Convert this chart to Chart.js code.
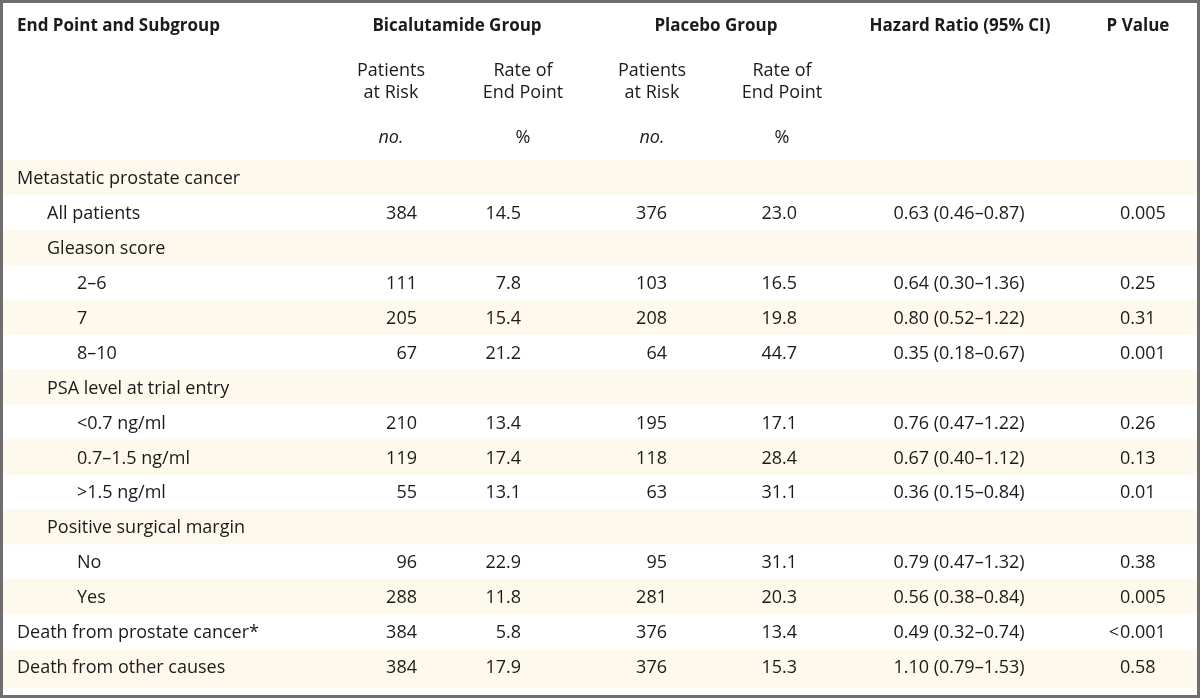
<!DOCTYPE html>
<html>
<head>
<meta charset="utf-8">
<script src="https://cdn.jsdelivr.net/npm/chart.js@4.4.0/dist/chart.umd.min.js"></script>
<style>
html,body{margin:0;padding:0;background:#fff;}
canvas{display:block;}
</style>
</head>
<body>
<canvas id="c" width="1200" height="698"></canvas>
<script>
// ---- Data ----
const rowLabels = [
  'Metastatic prostate cancer','All patients','Gleason score','2–6','7','8–10',
  'PSA level at trial entry','<0.7 ng/ml','0.7–1.5 ng/ml','>1.5 ng/ml',
  'Positive surgical margin','No','Yes','Death from prostate cancer*','Death from other causes'
];
const rowLevel = [0,1,1,2,2,2,1,2,2,2,1,2,2,0,0];
const bicaPatients = [null,384,null,111,205,67,null,210,119,55,null,96,288,384,384];
const bicaRate = [null,14.5,null,7.8,15.4,21.2,null,13.4,17.4,13.1,null,22.9,11.8,5.8,17.9];
const placeboPatients = [null,376,null,103,208,64,null,195,118,63,null,95,281,376,376];
const placeboRate = [null,23.0,null,16.5,19.8,44.7,null,17.1,28.4,31.1,null,31.1,20.3,13.4,15.3];
const hazardRatio = [null,0.63,null,0.64,0.80,0.35,null,0.76,0.67,0.36,null,0.79,0.56,0.49,1.10];
const ciLow = [null,0.46,null,0.30,0.52,0.18,null,0.47,0.40,0.15,null,0.47,0.38,0.32,0.79];
const ciHigh = [null,0.87,null,1.36,1.22,0.67,null,1.22,1.12,0.84,null,1.32,0.84,0.74,1.53];
const pValues = [null,'0.005',null,'0.25','0.31','0.001',null,'0.26','0.13','0.01',null,'0.38','0.005','<0.001','0.58'];
const headerTop = ['End Point and Subgroup','Bicalutamide Group','Placebo Group','Hazard Ratio (95% CI)','P Value'];
const subHeader = [['Patients','at Risk'],['Rate of','End Point']];
const unitLabels = ['no.','%'];

// ---- Layout / style (kept separate from data) ----
const FONT = '"Open Sans"';
const TXT = '#1c1a1a';
const SHADE = '#fdf9ec';
const COL = { label:17, indent:30, bicaN:417, bicaR:521, plaN:667, plaR:797, hr:959, p:1120 };
const HDR = { top:26, sub1:71, sub2:93, unit:138, bica:457, pla:716, hr:960, p:1138, bicaN:391, bicaR:523, plaN:652, plaR:782 };
const TY = 1.5; // text vertical nudge

const shadeData = rowLabels.map((_, i) => i % 2 === 0 ? [0, 1200] : null);

const tablePlugin = {
  id: 'tableText',
  beforeDatasetsDraw(chart) {
    const ctx = chart.ctx, ca = chart.chartArea;
    if (shadeData[shadeData.length - 1]) {
      ctx.save();
      ctx.fillStyle = SHADE;
      ctx.fillRect(ca.left, ca.bottom - 1, ca.right - ca.left, 6);
      ctx.restore();
    }
  },
  afterDatasetsDraw(chart) {
    const ctx = chart.ctx;
    const xs = chart.scales.x, ys = chart.scales.y;
    const X = v => xs.getPixelForValue(v);
    ctx.save();
    ctx.fillStyle = TXT;
    ctx.textBaseline = 'middle';
    // headers
    ctx.font = 'bold 17px ' + FONT;
    ctx.textAlign = 'left';
    ctx.fillText(headerTop[0], X(COL.label), HDR.top);
    ctx.textAlign = 'center';
    ctx.fillText(headerTop[1], X(HDR.bica), HDR.top);
    ctx.fillText(headerTop[2], X(HDR.pla), HDR.top);
    ctx.fillText(headerTop[3], X(HDR.hr), HDR.top);
    ctx.fillText(headerTop[4], X(HDR.p), HDR.top);
    ctx.font = '18px ' + FONT;
    [[HDR.bicaN,0],[HDR.bicaR,1],[HDR.plaN,0],[HDR.plaR,1]].forEach(([x,k]) => {
      ctx.fillText(subHeader[k][0], X(x), HDR.sub1);
      ctx.fillText(subHeader[k][1], X(x), HDR.sub2);
    });
    [[HDR.bicaN,0],[HDR.bicaR,1],[HDR.plaN,0],[HDR.plaR,1]].forEach(([x,k]) => {
      ctx.font = (k === 0 ? 'italic ' : '') + '18px ' + FONT;
      ctx.fillText(unitLabels[k], X(x), HDR.unit);
    });
    // body
    ctx.font = '18px ' + FONT;
    rowLabels.forEach((lab, i) => {
      const y = ys.getPixelForValue(i) + TY;
      ctx.textAlign = 'left';
      ctx.fillText(lab, X(COL.label + rowLevel[i] * COL.indent), y);
      if (bicaPatients[i] == null) return;
      ctx.textAlign = 'right';
      ctx.fillText(String(bicaPatients[i]), X(COL.bicaN), y);
      ctx.fillText(bicaRate[i].toFixed(1), X(COL.bicaR), y);
      ctx.fillText(String(placeboPatients[i]), X(COL.plaN), y);
      ctx.fillText(placeboRate[i].toFixed(1), X(COL.plaR), y);
      ctx.textAlign = 'center';
      ctx.fillText(hazardRatio[i].toFixed(2) + ' (' + ciLow[i].toFixed(2) + '–' + ciHigh[i].toFixed(2) + ')', X(COL.hr), y);
      let p = pValues[i];
      if (p.startsWith('<')) {
        ctx.textAlign = 'right';
        ctx.fillText('<', X(COL.p) - 1, y);
        p = p.slice(1);
      }
      ctx.textAlign = 'left';
      ctx.fillText(p, X(COL.p), y);
    });
    // frame
    ctx.strokeStyle = '#6e6e6e';
    ctx.lineWidth = 3;
    ctx.strokeRect(1.5, 1.5, chart.width - 3, chart.height - 3);
    ctx.restore();
  }
};

function build() {
  new Chart(document.getElementById('c'), {
    type: 'bar',
    data: {
      labels: rowLabels,
      datasets: [{
        data: shadeData,
        backgroundColor: SHADE,
        borderWidth: 0,
        barPercentage: 1,
        categoryPercentage: 1
      }]
    },
    options: {
      indexAxis: 'y',
      responsive: false,
      animation: false,
      events: [],
      layout: { padding: { top: 160, bottom: 14, left: 0, right: 0 } },
      scales: {
        x: { type: 'linear', min: 0, max: 1200, display: false },
        y: { type: 'category', display: false, offset: true }
      },
      plugins: { legend: { display: false }, tooltip: { enabled: false } }
    },
    plugins: [tablePlugin]
  });
}
Promise.all([
  document.fonts.load('18px "Open Sans"'),
  document.fonts.load('bold 17px "Open Sans"'),
  document.fonts.load('italic 18px "Open Sans"')
]).then(build, build);
</script>
</body>
</html>
